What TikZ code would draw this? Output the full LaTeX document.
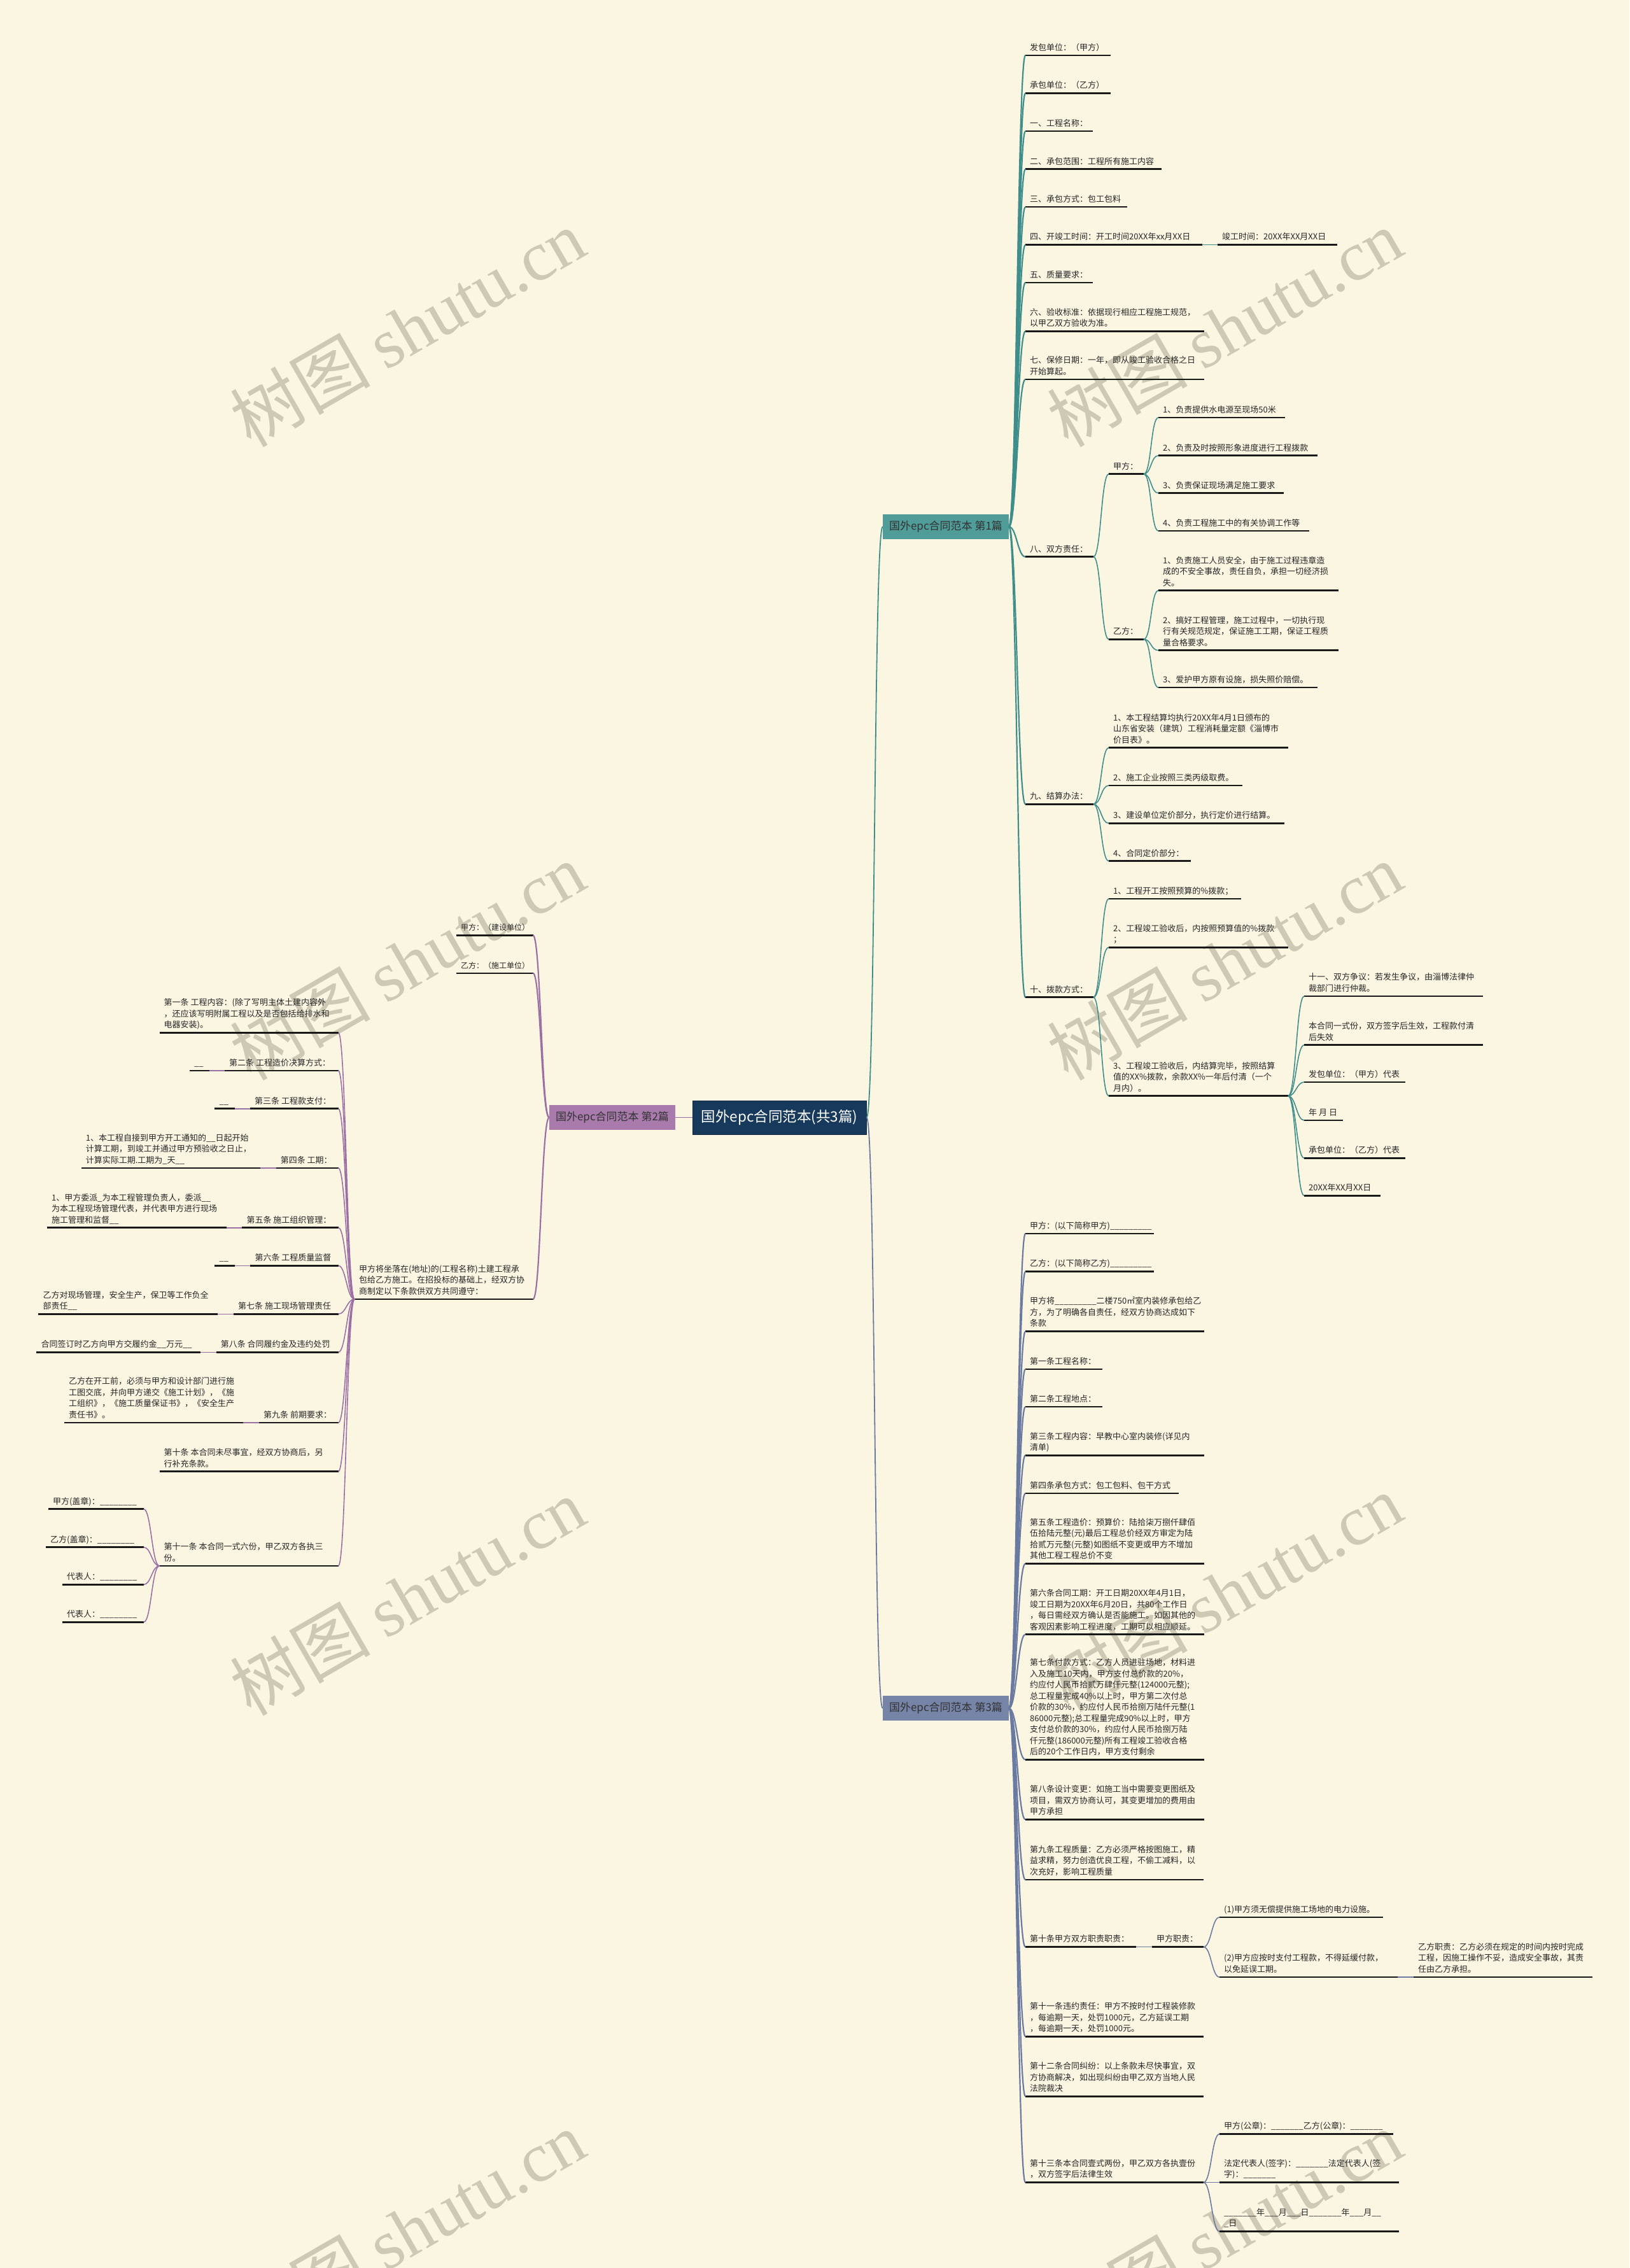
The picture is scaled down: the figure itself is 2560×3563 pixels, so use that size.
\documentclass[tikz,border=0pt]{standalone}
\usepackage{fontspec}
\setmainfont{Noto Sans CJK SC}
\newfontfamily\wmfont{Liberation Serif}
\usetikzlibrary{calc}
\definecolor{bg}{HTML}{FBF6E2}
\definecolor{rootc}{HTML}{173A5C}
\definecolor{tealc}{HTML}{3F8E8B}
\definecolor{tealf}{HTML}{4F9C98}
\definecolor{purc}{HTML}{9C70A4}
\definecolor{purf}{HTML}{A87BAC}
\definecolor{slc}{HTML}{6B7AA1}
\definecolor{slf}{HTML}{7684A8}
\definecolor{wmc}{HTML}{CDC9B4}
\definecolor{txt}{HTML}{262626}
\tikzset{
  leaf/.style={inner sep=0pt, align=left, anchor=south west, text=txt, text depth=3.5pt, font=\fontsize{13}{17.5}\selectfont},
  uline/.style={draw=black!90, line width=2.6pt},
  con1/.style={line width=2.2pt},
  con2/.style={line width=1.6pt},
  ct/.style={draw=tealc},
  cp/.style={draw=purc},
  cs/.style={draw=slc},
  blabel/.style={inner sep=0pt, minimum width=198pt, minimum height=39pt, text=black!80, font=\fontsize{17}{20}\selectfont},
  rootbox/.style={inner sep=0pt, minimum width=273pt, minimum height=53pt, fill=rootc, draw=rootc!70!black, line width=1pt, text=white, font=\fontsize{22.5}{26}\selectfont},
  wmark/.style={rotate=30, text=wmc, inner sep=0pt, font=\fontsize{110}{110}\selectfont}
}
\newcommand{\mmleaf}[5]{%
  \coordinate (#1-l) at (#2,#4);
  \coordinate (#1-r) at (#3,#4);
  \node[leaf] (#1) at ({#2+7},{#4-4}) {#5};
  \draw[uline] (#1-l) -- (#1-r);
}
\newcommand{\conR}[3]{\draw[#3] (#1) .. controls +(12,0) and +(-12,0) .. (#2-l);}
\newcommand{\conL}[3]{\draw[#3] (#1) .. controls +(-12,0) and +(12,0) .. (#2-r);}
\begin{document}
\begin{tikzpicture}[x=1pt,y=-1pt]
\useasboundingbox (0,0) rectangle (2560,3563);
\fill[bg] (0,0) rectangle (2560,3563);
% watermarks
\foreach \wx/\wy [count=\wi] in {640/515,1924/515,640/1510,1924/1510,640/2508,1924/2502,640/3502,1924/3502}
  \node[wmark] (wm\wi) at (\wx,\wy) {树图 {\wmfont shutu.cn}};

% root and branch labels
\node[rootbox] (root) at (1224.5,1755.5) {国外epc合同范本(共3篇)};
\node[blabel, fill=tealf] (b1) at (1486,827.5) {国外epc合同范本 第1篇};
\node[blabel, fill=purf] (b2) at (962,1755.5) {国外epc合同范本 第2篇};
\node[blabel, fill=slf] (b3) at (1486,2683.5) {国外epc合同范本 第3篇};

% ---------- branch 1 ----------
\mmleaf{a1}{1611}{1745}{87}{发包单位：（甲方）}
\mmleaf{a2}{1611}{1745}{146.5}{承包单位：（乙方）}
\mmleaf{a3}{1611}{1717}{206}{一、工程名称：}
\mmleaf{a4}{1611}{1825}{265.7}{二、承包范围：工程所有施工内容}
\mmleaf{a5}{1611}{1771}{325}{三、承包方式：包工包料}
\mmleaf{a6}{1611}{1889}{384.6}{四、开竣工时间：开工时间20XX年xx月XX日}
\mmleaf{a6b}{1913}{2101}{384.6}{竣工时间：20XX年XX月XX日}
\mmleaf{a7}{1611}{1717}{444}{五、质量要求：}
\mmleaf{a8}{1611}{1892}{520.4}{六、验收标准：依据现行相应工程施工规范，\\以甲乙双方验收为准。}
\mmleaf{a9}{1611}{1892}{596}{七、保修日期：一年，即从竣工验收合格之日\\开始算起。}
\mmleaf{a10}{1611}{1718}{874.7}{八、双方责任：}
\mmleaf{a10a}{1742}{1797}{744.7}{甲方：}
\mmleaf{a10a1}{1820}{2019}{656}{1、负责提供水电源至现场50米}
\mmleaf{a10a2}{1820}{2070}{715.7}{2、负责及时按照形象进度进行工程拨款}
\mmleaf{a10a3}{1820}{2017}{774.7}{3、负责保证现场满足施工要求}
\mmleaf{a10a4}{1820}{2057}{834}{4、负责工程施工中的有关协调工作等}
\mmleaf{a10b}{1742}{1797}{1004.3}{乙方：}
\mmleaf{a10b1}{1820}{2103}{927.7}{1、负责施工人员安全，由于施工过程违章造\\成的不安全事故，责任自负，承担一切经济损\\失。}
\mmleaf{a10b2}{1820}{2103}{1021.7}{2、搞好工程管理，施工过程中，一切执行现\\行有关规范规定，保证施工工期，保证工程质\\量合格要求。}
\mmleaf{a10b3}{1820}{2070}{1080}{3、爱护甲方原有设施，损失照价赔偿。}
\mmleaf{a11}{1611}{1718}{1263.3}{九、结算办法：}
\mmleaf{a11a}{1742}{2024}{1174.7}{1、本工程结算均执行20XX年4月1日颁布的\\山东省安装（建筑）工程消耗量定额《淄博市\\价目表》。}
\mmleaf{a11b}{1742}{1952}{1234}{2、施工企业按照三类丙级取费。}
\mmleaf{a11c}{1742}{2018}{1293.3}{3、建设单位定价部分，执行定价进行结算。}
\mmleaf{a11d}{1742}{1871}{1352.7}{4、合同定价部分：}
\mmleaf{a12}{1611}{1718}{1566.7}{十、拨款方式：}
\mmleaf{a12a}{1742}{1950}{1412}{1、工程开工按照预算的\%拨款；}
\mmleaf{a12b}{1742}{2024}{1488.3}{2、工程竣工验收后，内按照预算值的\%拨款\\；}
\mmleaf{a12c}{1742}{2024}{1721.7}{3、工程竣工验收后，内结算完毕，按照结算\\值的XX\%拨款，余款XX\%一年后付清（一个\\月内）。}
\mmleaf{a12c1}{2049}{2330}{1565}{十一、双方争议：若发生争议，由淄博法律仲\\裁部门进行仲裁。}
\mmleaf{a12c2}{2049}{2330}{1641.7}{本合同一式份，双方签字后生效，工程款付清\\后失效}
\mmleaf{a12c3}{2049}{2208}{1700}{发包单位：（甲方）代表}
\mmleaf{a12c4}{2049}{2110}{1760}{年 月 日}
\mmleaf{a12c5}{2049}{2208}{1819.3}{承包单位：（乙方）代表}
\mmleaf{a12c6}{2049}{2169}{1878.3}{20XX年XX月XX日}

% ---------- branch 3 ----------
\mmleaf{c1}{1611}{1813}{1938}{甲方：(以下简称甲方)\_\_\_\_\_\_\_\_\_}
\mmleaf{c2}{1611}{1813}{1997.6}{乙方：(以下简称乙方)\_\_\_\_\_\_\_\_\_}
\mmleaf{c3}{1611}{1892}{2091.6}{甲方将\_\_\_\_\_\_\_\_\_二楼750㎡室内装修承包给乙\\方，为了明确各自责任，经双方协商达成如下\\条款}
\mmleaf{c4}{1611}{1732}{2150.8}{第一条工程名称：}
\mmleaf{c5}{1611}{1732}{2210}{第二条工程地点：}
\mmleaf{c6}{1611}{1892}{2286.2}{第三条工程内容：早教中心室内装修(详见内\\清单)}
\mmleaf{c7}{1611}{1852}{2346}{第四条承包方式：包工包料、包干方式}
\mmleaf{c8}{1611}{1892}{2456.4}{第五条工程造价：预算价：陆拾柒万捌仟肆佰\\伍拾陆元整(元)最后工程总价经双方审定为陆\\拾贰万元整(元整)如图纸不变更或甲方不增加\\其他工程工程总价不变}
\mmleaf{c9}{1611}{1892}{2567.7}{第六条合同工期：开工日期20XX年4月1日，\\竣工日期为20XX年6月20日，共80个工作日\\，每日需经双方确认是否能施工。如因其他的\\客观因素影响工程进度，工期可以相应顺延。}
\mmleaf{c10}{1611}{1892}{2764.3}{第七条付款方式：乙方人员进驻场地，材料进\\入及施工10天内，甲方支付总价款的20\%，\\约应付人民币拾贰万肆仟元整(124000元整);\\总工程量完成40\%以上时，甲方第二次付总\\价款的30\%，约应付人民币拾捌万陆仟元整(1\\86000元整);总工程量完成90\%以上时，甲方\\支付总价款的30\%，约应付人民币拾捌万陆\\仟元整(186000元整)所有工程竣工验收合格\\后的20个工作日内，甲方支付剩余}
\mmleaf{c11}{1611}{1892}{2858.3}{第八条设计变更：如施工当中需要变更图纸及\\项目，需双方协商认可，其变更增加的费用由\\甲方承担}
\mmleaf{c12}{1611}{1891}{2952.9}{第九条工程质量：乙方必须严格按图施工，精\\益求精，努力创造优良工程，不偷工减料，以\\次充好，影响工程质量}
\mmleaf{c13}{1611}{1785}{3058.6}{第十条甲方双方职责职责：}
\mmleaf{c13a}{1810}{1891}{3058.6}{甲方职责：}
\mmleaf{c13a1}{1916}{2173}{3012}{(1)甲方须无偿提供施工场地的电力设施。}
\mmleaf{c13a2}{1916}{2196}{3106}{(2)甲方应按时支付工程款，不得延缓付款，\\以免延误工期。}
\mmleaf{c13a2x}{2221}{2502}{3106}{乙方职责：乙方必须在规定的时间内按时完成\\工程，因施工操作不妥，造成安全事故，其责\\任由乙方承担。}
\mmleaf{c14}{1611}{1891}{3199.4}{第十一条违约责任：甲方不按时付工程装修款\\，每逾期一天，处罚1000元，乙方延误工期\\，每逾期一天，处罚1000元。}
\mmleaf{c15}{1611}{1891}{3293.2}{第十二条合同纠纷：以上条款未尽快事宜，双\\方协商解决，如出现纠纷由甲乙双方当地人民\\法院裁决}
\mmleaf{c16}{1611}{1891}{3428.5}{第十三条本合同壹式两份，甲乙双方各执壹份\\，双方签字后法律生效}
\mmleaf{c16a}{1916}{2189}{3352.4}{甲方(公章)：\_\_\_\_\_\_\_乙方(公章)：\_\_\_\_\_\_\_}
\mmleaf{c16b}{1916}{2198}{3428.5}{法定代表人(签字)：\_\_\_\_\_\_\_法定代表人(签\\字)：\_\_\_\_\_\_\_}
\mmleaf{c16c}{1916}{2198}{3505.5}{\_\_\_\_\_\_\_年\_\_\_月\_\_\_日\_\_\_\_\_\_\_年\_\_\_月\_\_\\\_日}

% ---------- branch 2 ----------
\mmleaf{d1}{717}{837.5}{1469.4}{\fontsize{12}{16}\selectfont 甲方：（建设单位）}
\mmleaf{d2}{717}{837.5}{1528.8}{\fontsize{12}{16}\selectfont 乙方：（施工单位）}
\mmleaf{d3}{557}{837.5}{2041}{甲方将坐落在(地址)的(工程名称)土建工程承\\包给乙方施工。在招投标的基础上，经双方协\\商制定以下条款供双方共同遵守：}
\mmleaf{e1}{250.5}{531.6}{1622.3}{第一条 工程内容：(除了写明主体土建内容外\\，还应该写明附属工程以及是否包括给排水和\\电器安装)。}
\mmleaf{e2}{353}{531.6}{1682}{第二条 工程造价决算方式：}
\mmleaf{e2a}{297.8}{328.5}{1682}{\_\_}
\mmleaf{e3}{393}{531.6}{1741.7}{第三条 工程款支付：}
\mmleaf{e3a}{337.4}{368.8}{1741.7}{\_\_}
\mmleaf{e4}{433.6}{531.6}{1835}{第四条 工期：}
\mmleaf{e4a}{127.6}{409.2}{1835}{1、本工程自接到甲方开工通知的\_\_日起开始\\计算工期，到竣工并通过甲方预验收之日止，\\计算实际工期.工期为\_天\_\_}
\mmleaf{e5}{380.3}{531.6}{1928.7}{第五条 施工组织管理：}
\mmleaf{e5a}{74}{356}{1928.7}{1、甲方委派\_为本工程管理负责人，委派\_\_\\为本工程现场管理代表，并代表甲方进行现场\\施工管理和监督\_\_}
\mmleaf{e6}{393.3}{531.6}{1988.3}{第六条 工程质量监督}
\mmleaf{e6a}{337.4}{368.8}{1988.3}{\_\_}
\mmleaf{e7}{367}{531.6}{2064.3}{第七条 施工现场管理责任}
\mmleaf{e7a}{60.3}{342.2}{2064.3}{乙方对现场管理，安全生产，保卫等工作负全\\部责任\_\_}
\mmleaf{e8}{339.6}{531.6}{2124.3}{第八条 合同履约金及违约处罚}
\mmleaf{e8a}{57.3}{315.2}{2124.3}{合同签订时乙方向甲方交履约金\_\_万元\_\_}
\mmleaf{e9}{407}{531.6}{2235}{第九条 前期要求：}
\mmleaf{e9a}{101}{382.2}{2235}{乙方在开工前，必须与甲方和设计部门进行施\\工图交底，并向甲方递交《施工计划》，《施\\工组织》，《施工质量保证书》，《安全生产\\责任书》。}
\mmleaf{e10}{250.5}{531.6}{2311.7}{第十条 本合同未尽事宜，经双方协商后，另\\行补充条款。}
\mmleaf{e11}{250.5}{531.6}{2460}{第十一条 本合同一式六份，甲乙双方各执三\\份。}
\mmleaf{e11a}{75.8}{225.7}{2370.7}{甲方(盖章)：\_\_\_\_\_\_\_\_}
\mmleaf{e11b}{72}{225.7}{2430.7}{乙方(盖章)：\_\_\_\_\_\_\_\_}
\mmleaf{e11c}{98}{225.7}{2489.3}{代表人：\_\_\_\_\_\_\_\_}
\mmleaf{e11d}{98}{225.7}{2548.3}{代表人：\_\_\_\_\_\_\_\_}

% ---------- connectors ----------
\draw[ct, line width=1.8pt] (root.east) .. controls +(14,0) and +(-14,0) .. (b1.west);
\draw[cs, line width=1.8pt] (root.east) .. controls +(14,0) and +(-14,0) .. (b3.west);
\draw[cp, line width=1.8pt] (root.west) -- (b2.east);

\foreach \n in {a1,a2,a3,a4,a5,a6,a7,a8,a9,a10,a11,a12}
  {\conR{b1.east}{\n}{ct,con1}}
\draw[ct,con2] (a6-r) -- (a6b-l);
\foreach \n in {a10a,a10b} {\conR{a10-r}{\n}{ct,con2}}
\foreach \n in {a10a1,a10a2,a10a3,a10a4} {\conR{a10a-r}{\n}{ct,con2}}
\foreach \n in {a10b1,a10b2,a10b3} {\conR{a10b-r}{\n}{ct,con2}}
\foreach \n in {a11a,a11b,a11c,a11d} {\conR{a11-r}{\n}{ct,con2}}
\foreach \n in {a12a,a12b,a12c} {\conR{a12-r}{\n}{ct,con2}}
\foreach \n in {a12c1,a12c2,a12c3,a12c4,a12c5,a12c6} {\conR{a12c-r}{\n}{ct,con2}}

\foreach \n in {c1,c2,c3,c4,c5,c6,c7,c8,c9,c10,c11,c12,c13,c14,c15,c16}
  {\conR{b3.east}{\n}{cs,con1}}
\draw[cs,con2] (c13-r) -- (c13a-l);
\foreach \n in {c13a1,c13a2} {\conR{c13a-r}{\n}{cs,con2}}
\draw[cs,con2] (c13a2-r) -- (c13a2x-l);
\foreach \n in {c16a,c16b,c16c} {\conR{c16-r}{\n}{cs,con2}}

\foreach \n in {d1,d2,d3} {\conL{b2.west}{\n}{cp,con1}}
\foreach \n in {e1,e2,e3,e4,e5,e6,e7,e8,e9,e10,e11} {\conL{d3-l}{\n}{cp,con2}}
\draw[cp,con2] (e2-l) -- (e2a-r);
\draw[cp,con2] (e3-l) -- (e3a-r);
\draw[cp,con2] (e4-l) -- (e4a-r);
\draw[cp,con2] (e5-l) -- (e5a-r);
\draw[cp,con2] (e6-l) -- (e6a-r);
\draw[cp,con2] (e7-l) -- (e7a-r);
\draw[cp,con2] (e8-l) -- (e8a-r);
\draw[cp,con2] (e9-l) -- (e9a-r);
\foreach \n in {e11a,e11b,e11c,e11d} {\conL{e11-l}{\n}{cp,con2}}
\end{tikzpicture}
\end{document}
